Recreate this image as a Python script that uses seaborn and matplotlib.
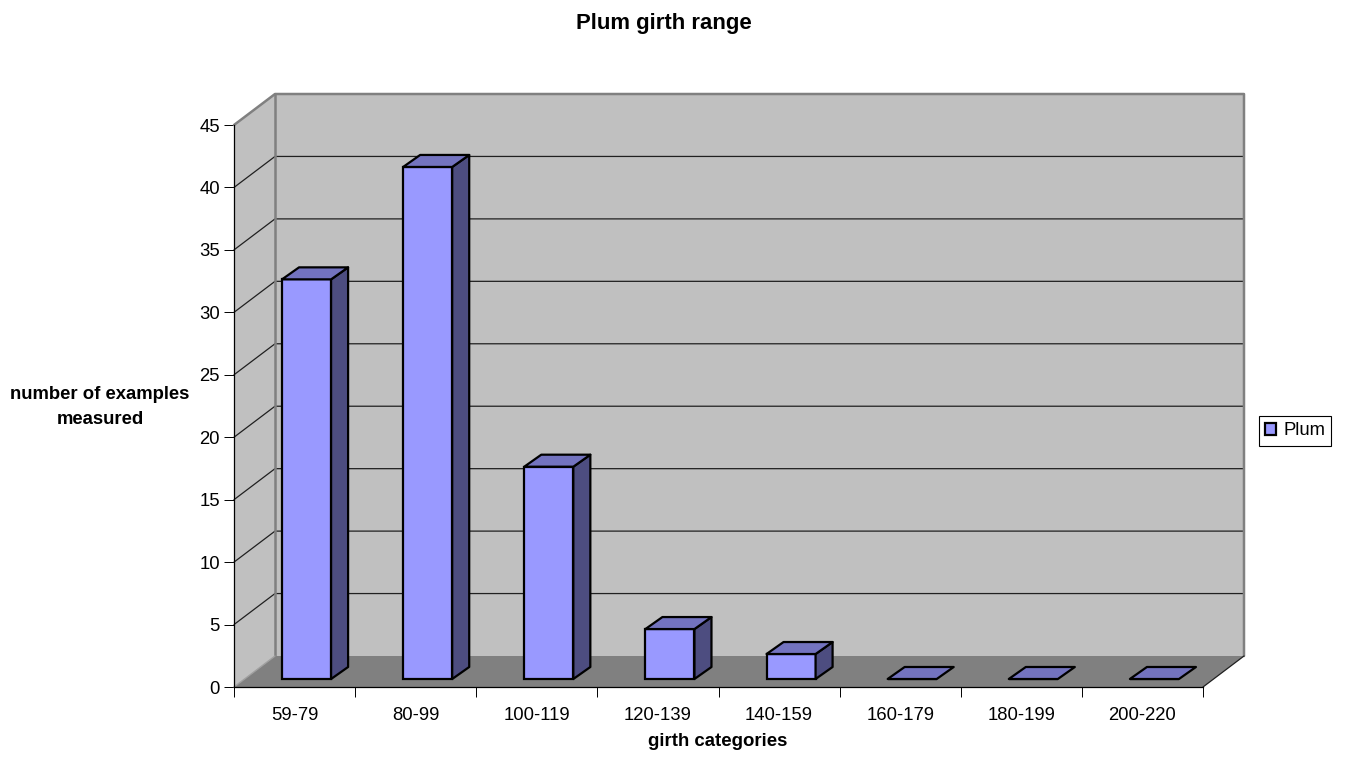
import matplotlib
matplotlib.use("Agg")
import pandas as pd
import seaborn as sns
import matplotlib.pyplot as plt
from matplotlib.patches import Patch, Polygon

# Values
categories = ["59-79", "80-99", "100-119", "120-139", "140-159", "160-179", "180-199", "200-220"]
plum_counts = [32, 41, 17, 4, 2, 0, 0, 0]
y_ticks = list(range(0, 50, 5))

FRONT = "#9999FF"
SIDE = "#4D4D80"
TOP = "#7373BF"
WALL = "#C0C0C0"
FLOOR = "#808080"

sns.set_theme(style="white")
plt.rcParams["font.family"] = ["Liberation Sans", "DejaVu Sans"]

W, H = 1346, 758
fig = plt.figure(figsize=(W / 100, H / 100), dpi=100)
ax = fig.add_axes([234 / W, 1 - 687 / H, 969 / W, 562 / H])

df = pd.DataFrame({"girth": categories, "count": plum_counts})
sns.barplot(data=df, x="girth", y="count", color=FRONT, saturation=1, width=0.405,
            edgecolor="black", linewidth=1.6, zorder=5, ax=ax)
ax.set_xlim(-0.5, 7.5)
ax.set_ylim(0, 45)

# Oblique depth of the chart box and of the bars, in data units
px_x = 8 / 969
px_y = 45 / 562
box_dx, box_dy = 41 * px_x, 31 * px_y
bar_dx, bar_dy = 17 * px_x, 12 * px_y
bar_shift, bar_base = 12 * px_x, 8 * px_y

x0, x1 = -0.5, 7.5
ax.add_patch(Polygon([(x0 + box_dx, box_dy), (x1 + box_dx, box_dy), (x1 + box_dx, 45 + box_dy), (x0 + box_dx, 45 + box_dy)],
                     fc=WALL, ec="none", zorder=1, clip_on=False))
ax.add_patch(Polygon([(x0, 0), (x0 + box_dx, box_dy), (x0 + box_dx, 45 + box_dy), (x0, 45)],
                     fc=WALL, ec="none", zorder=1, clip_on=False))
ax.add_patch(Polygon([(x0, 0), (x1, 0), (x1 + box_dx, box_dy), (x0 + box_dx, box_dy)],
                     fc=FLOOR, ec="none", zorder=2, clip_on=False))

# Gridlines run along the side wall and across the back wall
for v in y_ticks[1:-1]:
    ax.plot([x0, x0 + box_dx, x1 + box_dx], [v, v + box_dy, v + box_dy], color="#202020", lw=0.9, zorder=3, clip_on=False)
ax.plot([x0, x0 + box_dx, x1 + box_dx, x1 + box_dx], [45, 45 + box_dy, 45 + box_dy, box_dy], color=FLOOR, lw=1.8, zorder=3, clip_on=False)
ax.plot([x0 + box_dx, x0 + box_dx], [box_dy, 45 + box_dy], color=FLOOR, lw=1.8, zorder=3, clip_on=False)
ax.plot([x0, x0 + box_dx], [0, box_dy], color="#A0A0A0", lw=1.0, zorder=3, clip_on=False)
ax.plot([x1, x1 + box_dx], [0, box_dy], color="#202020", lw=0.9, zorder=3, clip_on=False)

# Shift the seaborn bars onto the floor and add their side and top faces
for bar in ax.patches:
    if bar.get_facecolor()[:3] != matplotlib.colors.to_rgb(FRONT):
        continue
    bar.set_x(bar.get_x() + bar_shift)
    bar.set_y(bar_base)
    left = bar.get_x()
    right = left + bar.get_width()
    top = bar_base + bar.get_height()
    if bar.get_height() > 0:
        ax.add_patch(Polygon([(right, bar_base), (right + bar_dx, bar_base + bar_dy), (right + bar_dx, top + bar_dy), (right, top)],
                             fc=SIDE, ec="black", lw=1.6, zorder=5, joinstyle="round"))
    ax.add_patch(Polygon([(left, top), (right, top), (right + bar_dx, top + bar_dy), (left + bar_dx, top + bar_dy)],
                         fc=TOP, ec="black", lw=1.6, zorder=6, joinstyle="round"))

sns.despine(ax=ax)
for side in ["left", "bottom"]:
    ax.spines[side].set_color("black")
    ax.spines[side].set_linewidth(0.9)
    ax.spines[side].set_zorder(4)

ax.set_yticks(y_ticks)
ax.set_xticks([i - 0.5 for i in range(len(categories) + 1)], labels=[""] * (len(categories) + 1))
ax.set_xticks(range(len(categories)), labels=categories, minor=True)
ax.tick_params(axis="x", which="major", bottom=True, length=7.2, width=0.7, color="black")
ax.tick_params(axis="x", which="minor", bottom=False, labelsize=13.3, pad=10.5, labelcolor="black")
ax.tick_params(axis="y", left=True, length=7.2, width=0.7, color="black", labelsize=13.3, pad=3, labelcolor="black")
ax.set_xlabel("")
ax.set_ylabel("")

fig.text(664 / W, 1 - 23 / H, "Plum girth range", ha="center", va="center", fontsize=15.9, fontweight="bold", color="black")
fig.text(718 / W, 1 - 742 / H, "girth categories", ha="center", va="center", fontsize=13.4, fontweight="bold", color="black")
fig.text(100 / W, 1 - 407 / H, "number of examples\nmeasured", ha="center", va="center", fontsize=13.3, fontweight="bold",
         color="black", linespacing=1.6)

handle = Patch(facecolor=FRONT, edgecolor="black", linewidth=1.6, label="Plum")
ax.legend(handles=[handle], loc="center left", bbox_to_anchor=(1259 / W, 1 - 431 / H), bbox_transform=fig.transFigure,
          borderaxespad=0, fancybox=False, framealpha=1, edgecolor="black", fontsize=13.3, handlelength=0.6, handleheight=0.6,
          handletextpad=0.38, borderpad=0.33, labelcolor="black").get_frame().set_linewidth(0.8)

plt.savefig("out.png", dpi=100)
